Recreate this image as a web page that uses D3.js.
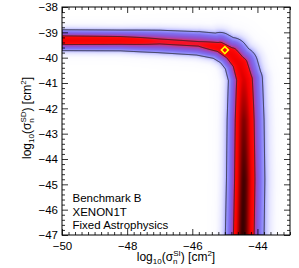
<!DOCTYPE html>
<html><head><meta charset="utf-8">
<script src="https://cdn.jsdelivr.net/npm/d3@7"></script>
<style>
body{margin:0;background:#fff}
svg{display:block}
text{font-family:"Liberation Sans",Arial,Helvetica,sans-serif;fill:#000}
</style>
</head><body>
<svg id="chart" width="299" height="268"></svg>
<script>
// ---------- data ----------
const xDomain = [-50, -43];
const yDomain = [-47, -38];
const xMajorTicks = [-50, -48, -46, -44];
const yMajorTicks = [-47, -46, -45, -44, -43, -42, -41, -40, -39, -38];
const minorStep = 0.2;

// ridge (crest) of the posterior density
const ridgeX    = [-50.0, -48.2, -47.0, -45.8, -45.15, -44.8, -44.55, -44.42, -44.42, -44.42, -44.45];
const ridgeY    = [-39.31, -39.32, -39.36, -39.46, -39.61, -39.89, -40.28, -40.87, -42.45, -44.8, -47.0];
const ridgePeak = [0.56, 0.5, 0.39, 0.38, 0.48, 0.55, 0.60, 0.65, 0.85, 0.97, 1.0];
// spread (dex) on the inner (lower-left) and outer (upper-right) sides of the ridge
const ridgeSpreadIn  = [0.165, 0.17, 0.2, 0.2, 0.19, 0.18, 0.18, 0.18, 0.18, 0.18, 0.18];
const ridgeSpreadOut = [0.165, 0.17, 0.2, 0.22, 0.235, 0.235, 0.225, 0.22, 0.22, 0.22, 0.22];

const contourLevels = [0.06, 0.35];
const bestFit = {x: -45.0, y: -39.7};
const annotations = ["Benchmark B", "XENON1T", "Fixed Astrophysics"];

const densityStops  = [0, 0.01, 0.025, 0.045, 0.06, 0.12, 0.2, 0.27, 0.32, 0.36, 0.42, 0.6, 0.8, 1.0];
const densityColors = ["#ffffff", "#fbfbff", "#e8e8ff", "#c4c4ff", "#9c9cff", "#8070f0",
                       "#8858d8", "#a048b8", "#c83880", "#f01838", "#ff0808", "#f00000", "#a00000", "#380000"];

// ---------- layout ----------
const svg = d3.select("#chart");
const x0 = 62, x1 = 290, y0 = 7, y1 = 235;
const x = d3.scaleLinear().domain(xDomain).range([x0, x1]);
const y = d3.scaleLinear().domain(yDomain).range([y1, y0]);
const color = d3.scaleLinear().domain(densityStops).range(densityColors).clamp(true);

// ---------- density field ----------
const kx = Math.abs(x(1) - x(0)), ky = Math.abs(y(1) - y(0));
const R = ridgeX.map((v, i) => ({px: x(v), py: y(ridgeY[i]), a: ridgePeak[i],
  si: ridgeSpreadIn[i], so: ridgeSpreadOut[i]}));
function profile(u) { return 0.85 * Math.exp(-u * u / 2) + 0.15 * Math.exp(-u * u / 8); }
function density(px, py) {
  let best = 0;
  for (let k = 0; k < R.length - 1; k++) {
    const p = R[k], q = R[k + 1];
    const dx = q.px - p.px, dy = q.py - p.py, L2 = dx * dx + dy * dy, L = Math.sqrt(L2);
    let t = ((px - p.px) * dx + (py - p.py) * dy) / L2;
    t = Math.max(0, Math.min(1, t));
    const cx = p.px + t * dx, cy = p.py + t * dy;
    const d = Math.hypot(px - cx, py - cy);
    const ux = dx / L, uy = dy / L;
    const sc = Math.hypot(uy * kx, ux * ky);
    const cross = dx * (py - p.py) - dy * (px - p.px);
    const s = (cross > 0 ? p.si + t * (q.si - p.si) : p.so + t * (q.so - p.so)) * sc;
    const a = p.a + t * (q.a - p.a);
    const v = a * profile(d / s);
    if (v > best) best = v;
  }
  return best;
}

const W = Math.round(x1 - x0), H = Math.round(y1 - y0);
const canvas = document.createElement("canvas");
canvas.width = W; canvas.height = H;
const ctx = canvas.getContext("2d");
const img = ctx.createImageData(W, H);
const values = new Array(W * H);
for (let j = 0; j < H; j++) {
  for (let i = 0; i < W; i++) {
    const v = density(x0 + i + 0.5, y0 + j + 0.5);
    values[j * W + i] = v;
    const c = d3.rgb(color(v));
    const o = (j * W + i) * 4;
    img.data[o] = c.r; img.data[o + 1] = c.g; img.data[o + 2] = c.b; img.data[o + 3] = 255;
  }
}
ctx.putImageData(img, 0, 0);

svg.append("defs").append("clipPath").attr("id", "plotclip")
  .append("rect").attr("x", x0).attr("y", y0).attr("width", W).attr("height", H);

const plot = svg.append("g").attr("clip-path", "url(#plotclip)");
plot.append("image").attr("x", x0).attr("y", y0).attr("width", W).attr("height", H)
  .attr("preserveAspectRatio", "none").attr("href", canvas.toDataURL());

const contours = d3.contours().size([W, H]).thresholds(contourLevels)(values);
const gp = d3.geoPath(d3.geoTransform({point(px, py) { this.stream.point(x0 + px, y0 + py); }}));
plot.selectAll("path.ct").data(contours).join("path").attr("class", "ct")
  .attr("d", gp).attr("fill", "none").attr("stroke", "#1a1a1a").attr("stroke-width", 0.8);

// best-fit point
plot.append("path")
  .attr("d", d3.symbol().type(d3.symbolSquare).size(24)())
  .attr("transform", `translate(${x(bestFit.x)},${y(bestFit.y)}) rotate(45)`)
  .attr("fill", "none").attr("stroke", "#ffff00").attr("stroke-width", 1.6);

// ---------- axes ----------
const xMinor = d3.range(0, 36).map(i => +(xDomain[0] + i * minorStep).toFixed(2))
  .filter(v => !xMajorTicks.includes(v));
const yMinor = d3.range(0, 46).map(i => +(yDomain[0] + i * minorStep).toFixed(2))
  .filter(v => !yMajorTicks.includes(v));
const fmt = d => d3.format("d")(d).replace("-", "\u2212");

function styleAxis(g) {
  g.select(".domain").remove();
  g.selectAll("line").attr("stroke", "#000").attr("stroke-width", 0.8);
  g.selectAll("text").attr("font-size", 11.5).attr("fill", "#000")
    .style("font-family", '"Liberation Sans",Arial,sans-serif');
}
svg.append("g").attr("transform", `translate(0,${y1})`)
  .call(d3.axisBottom(x).tickValues(xMajorTicks).tickSize(-6).tickPadding(7).tickFormat(fmt)).call(styleAxis);
svg.append("g").attr("transform", `translate(0,${y1})`)
  .call(d3.axisBottom(x).tickValues(xMinor).tickSize(-3).tickFormat("")).call(styleAxis);
svg.append("g").attr("transform", `translate(0,${y0})`)
  .call(d3.axisTop(x).tickValues(xMajorTicks).tickSize(-6).tickFormat("")).call(styleAxis);
svg.append("g").attr("transform", `translate(0,${y0})`)
  .call(d3.axisTop(x).tickValues(xMinor).tickSize(-3).tickFormat("")).call(styleAxis);
svg.append("g").attr("transform", `translate(${x0},0)`)
  .call(d3.axisLeft(y).tickValues(yMajorTicks).tickSize(-6).tickPadding(4).tickFormat(fmt)).call(styleAxis);
svg.append("g").attr("transform", `translate(${x0},0)`)
  .call(d3.axisLeft(y).tickValues(yMinor).tickSize(-3).tickFormat("")).call(styleAxis);
svg.append("g").attr("transform", `translate(${x1},0)`)
  .call(d3.axisRight(y).tickValues(yMajorTicks).tickSize(-6).tickFormat("")).call(styleAxis);
svg.append("g").attr("transform", `translate(${x1},0)`)
  .call(d3.axisRight(y).tickValues(yMinor).tickSize(-3).tickFormat("")).call(styleAxis);

svg.append("rect").attr("x", x0).attr("y", y0).attr("width", W).attr("height", H)
  .attr("fill", "none").attr("stroke", "#000").attr("stroke-width", 1);

// ---------- axis titles ----------
function title(sel, supText) {
  sel.attr("font-size", 12);
  sel.append("tspan").text("log");
  sel.append("tspan").attr("font-size", 8).attr("dy", 3).text("10");
  sel.append("tspan").attr("dy", -3).text("(\u03c3");
  sel.append("tspan").attr("font-size", 8).attr("dy", 3).text("n");
  sel.append("tspan").attr("font-size", 8).attr("dx", -4.4).attr("dy", -8).text(supText);
  sel.append("tspan").attr("dy", 5).text(") [cm");
  sel.append("tspan").attr("font-size", 8).attr("dy", -5).text("2");
  sel.append("tspan").attr("dy", 5).text("]");
}
svg.append("text").attr("x", 176).attr("y", 261).attr("text-anchor", "middle").call(title, "SI");
svg.append("text").attr("transform", "translate(31,118) rotate(-90)")
  .attr("text-anchor", "middle").call(title, "SD");

// ---------- annotations ----------
svg.append("g").selectAll("text").data(annotations).join("text")
  .attr("x", 72.5).attr("y", (d, i) => 202 + i * 13.5)
  .attr("font-size", 11.5).text(d => d);
</script>
</body></html>
